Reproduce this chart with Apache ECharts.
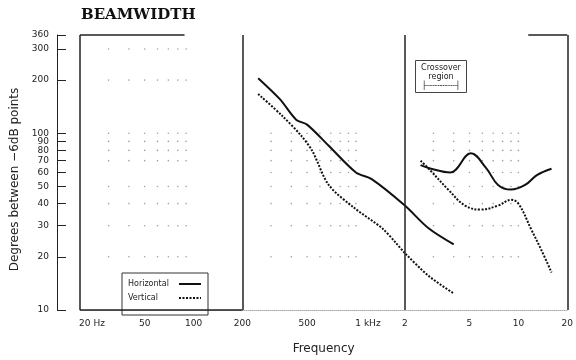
<!DOCTYPE html>
<html>
<head>
<meta charset="utf-8">
<script src="https://cdn.jsdelivr.net/npm/echarts@6/dist/echarts.min.js"></script>
<style>
html, body { margin: 0; padding: 0; background: #fff; }
#chart { width: 576px; height: 360px; }
</style>
</head>
<body>
<div id="chart"></div>
<script>
// low band (woofer) curves
var hLowFreq = [250, 340, 430, 500, 680, 1000, 1250, 2000, 2800, 4000];
var hLowDeg = [205, 156, 119, 112, 85, 60, 55, 39, 29, 23.5];
var vLowFreq = [250, 350, 460, 540, 680, 970, 1450, 1760, 2000, 2800, 4000];
var vLowDeg = [167, 126, 97, 79, 51, 38, 29, 24, 21, 15.6, 12.4];

// high band (tweeter) curves
var hHighFreq = [2500, 2900, 3800, 5100, 6300, 7500, 9000, 11000, 13000, 16000];
var hHighDeg = [66, 63, 60, 77, 64, 51, 48, 51, 58, 63];
var vHighFreq = [2500, 2900, 3700, 4700, 5900, 7500, 9000, 10000, 12000, 13800, 16000];
var vHighDeg = [70, 61, 48, 39, 37, 39, 42, 40, 28.6, 22, 16.3];

// axis ticks
var yTicks = [10, 20, 30, 40, 50, 60, 70, 80, 90, 100, 200, 300, 360];
var xTicks = [20, 50, 100, 200, 500, 1000, 2000, 5000, 10000, 20000];
var xTickText = ["20 Hz", "50", "100", "200", "500", "1 kHz", "2", "5", "10", "20"];
var frameFreqs = [20, 200, 2000, 20000];

// printed dot grid
var dotFreqLow = [30, 40, 50, 60, 70, 80, 90];
var dotDegLow = [20, 30, 40, 50, 70, 80, 90, 100, 200, 300];
var dotFreqMid = [300, 400, 500, 600, 700, 800, 900, 1000];
var dotFreqHigh = [3000, 4000, 5000, 6000, 7000, 8000, 9000, 10000];
var dotDegHigh = [20, 30, 40, 50, 60, 70, 80, 90, 100];

function pairs(xs, ys) {
  return xs.map(function (x, i) { return [x, ys[i]]; });
}
function dots(fs, ds) {
  var out = [];
  fs.forEach(function (f) { ds.forEach(function (d) { out.push([f, d]); }); });
  return out;
}

var font = "DejaVu Sans";
var chart = echarts.init(document.getElementById("chart"), null, { renderer: "canvas" });

var option = {
  animation: false,
  backgroundColor: "#fff",
  title: [
    {
      text: "BEAMWIDTH",
      left: 81,
      top: 8,
      padding: 0,
      textStyle: { fontFamily: "DejaVu Serif", fontWeight: "bold", fontSize: 15, color: "#111" }
    },
    {
      text: "Crossover\nregion",
      subtext: "├┄┄┄┄┄┄┤",
      left: 435,
      top: 60,
      padding: [3, 6, 3, 6],
      itemGap: 1,
      borderColor: "#444",
      borderWidth: 1,
      textAlign: "center",
      textStyle: { fontFamily: font, fontWeight: "normal", fontSize: 8, lineHeight: 9, color: "#222" },
      subtextStyle: { fontFamily: font, fontSize: 8, color: "#222" }
    }
  ],
  legend: {
    data: ["Horizontal", "Vertical"],
    left: 122,
    top: 273,
    orient: "vertical",
    align: "right",
    itemWidth: 22,
    itemHeight: 8,
    itemGap: 6,
    padding: [7, 6, 13, 6],
    borderColor: "#333",
    borderWidth: 1,
    itemStyle: { opacity: 0 },
    formatter: function (name) { return "{a|" + name + "}"; },
    textStyle: {
      fontFamily: font,
      fontSize: 8,
      color: "#222",
      rich: { a: { width: 46, align: "left", fontFamily: font, fontSize: 8, color: "#222" } }
    }
  },
  grid: { left: 80, right: 7, top: 35, bottom: 45 },
  xAxis: {
    type: "log",
    min: 20,
    max: 20000,
    name: "Frequency",
    nameLocation: "middle",
    nameGap: 33,
    nameTextStyle: { fontFamily: font, fontSize: 12, color: "#222" },
    axisLine: { show: true, lineStyle: { color: "#aaa", type: "dotted", width: 1 } },
    axisTick: { show: false },
    splitLine: { show: false },
    axisLabel: {
      customValues: xTicks,
      margin: 9,
      fontFamily: font,
      fontSize: 9,
      color: "#222",
      formatter: function (v) {
        var i = xTicks.indexOf(Math.round(v));
        if (i < 0) return "";
        if (i === 0 || i === 5) return "{p|}" + xTickText[i];
        return xTickText[i];
      },
      rich: { p: { width: 24, fontSize: 9 } }
    }
  },
  yAxis: {
    type: "log",
    min: 10,
    max: 360,
    offset: 23,
    name: "Degrees between \u22126dB points",
    nameLocation: "middle",
    nameGap: 31,
    nameTextStyle: { fontFamily: font, fontSize: 12, color: "#222", padding: [0, 14, 0, 0] },
    axisLine: { show: true, lineStyle: { color: "#222", width: 1 } },
    axisTick: { show: true, inside: true, length: 9, customValues: yTicks, lineStyle: { color: "#222" } },
    splitLine: { show: false },
    axisLabel: { customValues: yTicks, margin: 8, fontFamily: font, fontSize: 9, color: "#222" }
  },
  series: [
    {
      name: "grid dots",
      type: "scatter",
      symbolSize: 1.6,
      itemStyle: { color: "#888" },
      silent: true,
      data: dots(dotFreqLow, dotDegLow).concat(dots(dotFreqMid, dotDegHigh), dots(dotFreqHigh, dotDegHigh))
    },
    {
      name: "Horizontal",
      type: "line",
      smooth: 0.3,
      symbol: "none",
      lineStyle: { color: "#111", width: 2, type: "solid" },
      itemStyle: { color: "#111" },
      data: pairs(hLowFreq, hLowDeg),
      markLine: {
        silent: true,
        symbol: ["none", "none"],
        label: { show: false },
        lineStyle: { color: "#222", width: 1.5, type: "solid" },
        data: frameFreqs.map(function (f) { return { xAxis: f }; }).concat([
          [{ coord: [20, 360] }, { coord: [88, 360] }],
          [{ coord: [11500, 360] }, { coord: [20000, 360] }],
          [{ coord: [20, 10] }, { coord: [200, 10] }]
        ])
      }
    },
    {
      name: "Vertical",
      type: "line",
      smooth: 0.3,
      symbol: "none",
      lineStyle: { color: "#111", width: 2, type: [2, 1.5] },
      itemStyle: { color: "#111" },
      data: pairs(vLowFreq, vLowDeg)
    },
    {
      name: "Horizontal",
      type: "line",
      smooth: 0.4,
      symbol: "none",
      lineStyle: { color: "#111", width: 2, type: "solid" },
      itemStyle: { color: "#111" },
      data: pairs(hHighFreq, hHighDeg)
    },
    {
      name: "Vertical",
      type: "line",
      smooth: 0.4,
      symbol: "none",
      lineStyle: { color: "#111", width: 2, type: [2, 1.5] },
      itemStyle: { color: "#111" },
      data: pairs(vHighFreq, vHighDeg)
    }
  ]
};

chart.setOption(option);
</script>
</body>
</html>
